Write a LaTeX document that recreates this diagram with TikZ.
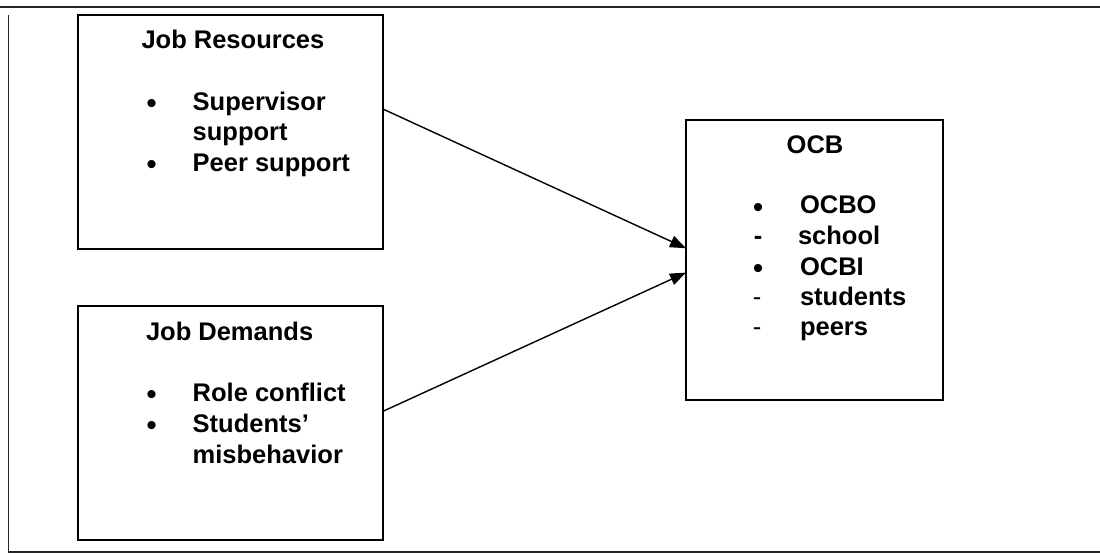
\documentclass[tikz,border=0pt]{standalone}
\usepackage{fontspec}
\setmainfont{Liberation Sans}
\usetikzlibrary{arrows.meta,calc}
\begin{document}
\begin{tikzpicture}[x=1pt,y=-1pt,
  frameline/.style={line width=1.6pt,black!85},
  boxnode/.style={draw,line width=1.6pt,rectangle,inner sep=0pt,outer sep=0pt},
  txt/.style={anchor=base west,inner sep=0pt,outer sep=0pt,font=\fontsize{25.5}{30}\selectfont\bfseries},
  bul/.style={anchor=base,inner sep=0pt,outer sep=0pt,yshift=-3.3pt,font=\fontsize{30}{30}\selectfont},
  dsh/.style={anchor=base,inner sep=0pt,outer sep=0pt,font=\fontsize{25.5}{30}\selectfont},
  bdsh/.style={dsh,font=\fontsize{25.5}{30}\selectfont\bfseries},
  conn/.style={line width=1.4pt,-{Triangle[length=16pt,width=12pt]}}]
\useasboundingbox (0,0) rectangle (1100,553);
% outer frame
\coordinate (f1) at (0,7);
\coordinate (f2) at (1100,7);
\coordinate (f3) at (8.5,15);
\coordinate (f4) at (8.5,552);
\coordinate (f5) at (1100,552);
\draw[frameline] (f1) -- (f2);
\draw[frameline] (f3) -- (f4) -- (f5);
% boxes
\node[boxnode,minimum width=305pt,minimum height=234pt] (jr) at (230.5,132) {};
\node[boxnode,minimum width=305pt,minimum height=234pt] (jd) at (230.5,423) {};
\node[boxnode,minimum width=257pt,minimum height=280pt] (ocb) at (814.5,260) {};
% Job Resources text
\node[txt] (jrt) at (141.5,49) {Job Resources};
\node[bul] (jrb1) at (151.7,110.5) {•};
\node[txt] (jr1) at (192.7,110.5) {Supervisor};
\node[txt] (jr1b) at (192.7,141) {support};
\node[bul] (jrb2) at (151.7,171.5) {•};
\node[txt] (jr2) at (192.7,171.5) {Peer support};
% Job Demands text
\node[txt] (jdt) at (146,340.7) {Job Demands};
\node[bul] (jdb1) at (151.7,401.5) {•};
\node[txt] (jd1) at (192.7,401.5) {Role conflict};
\node[bul] (jdb2) at (151.7,432) {•};
\node[txt] (jd2) at (192.7,432) {Students’};
\node[txt] (jd2b) at (192.7,463) {misbehavior};
% OCB text
\node[txt] (ocbt) at (786.7,154) {OCB};
\node[bul] (ob1) at (758,214) {•};
\node[txt] (o1) at (800,214) {OCBO};
\node[bdsh] (od1) at (758,244.5) {-};
\node[txt] (o1a) at (798,244.5) {school};
\node[bul] (ob2) at (758,275.5) {•};
\node[txt] (o2) at (800,275.5) {OCBI};
\node[dsh] (od2) at (757,305.5) {-};
\node[txt] (o2a) at (800,305.5) {students};
\node[dsh] (od3) at (757,335.5) {-};
\node[txt] (o2b) at (800,335.5) {peers};
% connectors
\coordinate (s1) at ($(jr.north east)!0.402!(jr.south east)$);
\coordinate (e1) at ($(ocb.north west)!0.458!(ocb.south west)$);
\coordinate (s2) at ($(jd.north east)!0.45!(jd.south east)$);
\coordinate (e2) at ($(ocb.north west)!0.545!(ocb.south west)$);
\draw[conn] (s1) -- (e1);
\draw[conn] (s2) -- (e2);
\end{tikzpicture}
\end{document}
